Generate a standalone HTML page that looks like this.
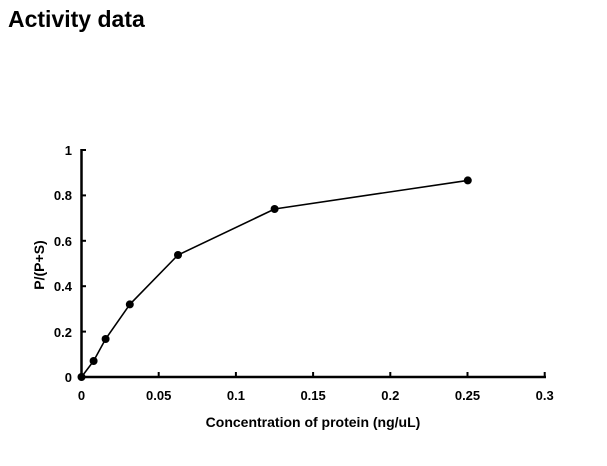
<!DOCTYPE html>
<html><head><style>body{margin:0;background:#fff}</style></head><body>
<svg width="607" height="461" xmlns="http://www.w3.org/2000/svg" font-family="Liberation Sans, sans-serif" font-weight="bold">
<text x="8" y="27" font-size="23">Activity data</text>
<g stroke="#000" stroke-width="2.5" fill="none">
<line x1="81.5" y1="149" x2="81.5" y2="378"/>
<line x1="80" y1="377" x2="546" y2="377"/>
</g>
<g stroke="#000" stroke-width="2">
<line x1="81" y1="150" x2="86" y2="150"/><line x1="81" y1="195.4" x2="86" y2="195.4"/><line x1="81" y1="240.8" x2="86" y2="240.8"/><line x1="81" y1="286.2" x2="86" y2="286.2"/><line x1="81" y1="331.6" x2="86" y2="331.6"/>
<line x1="158.7" y1="372" x2="158.7" y2="377"/><line x1="235.9" y1="372" x2="235.9" y2="377"/><line x1="313.1" y1="372" x2="313.1" y2="377"/><line x1="390.3" y1="372" x2="390.3" y2="377"/><line x1="467.5" y1="372" x2="467.5" y2="377"/><line x1="544.7" y1="372" x2="544.7" y2="377"/>
</g>
<g font-size="13" text-anchor="end">
<text x="72" y="155">1</text><text x="72" y="200">0.8</text><text x="72" y="246">0.6</text><text x="72" y="291">0.4</text><text x="72" y="337">0.2</text><text x="72" y="382">0</text>
</g>
<g font-size="13" text-anchor="middle">
<text x="81.5" y="400">0</text><text x="158.7" y="400">0.05</text><text x="235.9" y="400">0.1</text><text x="313.1" y="400">0.15</text><text x="390.3" y="400">0.2</text><text x="467.5" y="400">0.25</text><text x="544.7" y="400">0.3</text>
</g>
<text x="313" y="427" font-size="14" text-anchor="middle">Concentration of protein (ng/uL)</text>
<text transform="translate(44,265) rotate(-90)" font-size="14" text-anchor="middle">P/(P+S)</text>
<polyline fill="none" stroke="#000" stroke-width="1.6" points="81.5,377 93.6,361 105.6,339 129.8,304.4 178,255 274.6,209 467.8,180.4"/>
<g fill="#000">
<circle cx="81.5" cy="377" r="4"/><circle cx="93.6" cy="361" r="4"/><circle cx="105.6" cy="339" r="4"/><circle cx="129.8" cy="304.4" r="4"/><circle cx="178" cy="255" r="4"/><circle cx="274.6" cy="209" r="4"/><circle cx="467.8" cy="180.4" r="4"/>
</g>
</svg>
</body></html>
